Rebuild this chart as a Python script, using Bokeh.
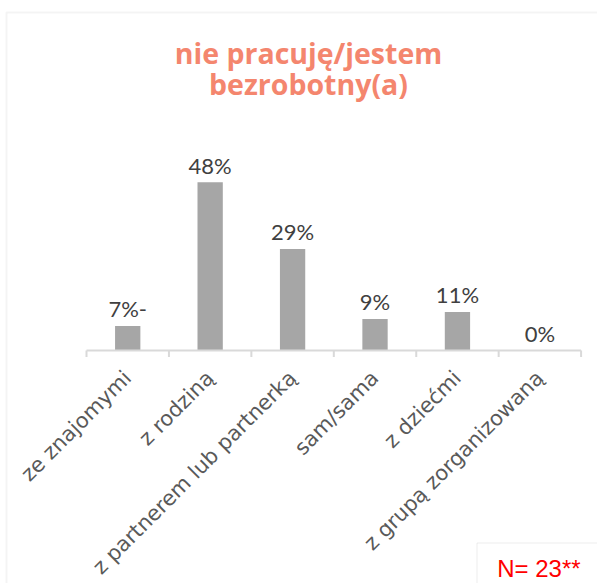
from math import pi
from bokeh.plotting import figure
from bokeh.models import Range1d, BoxAnnotation, Label, ColumnDataSource
from bokeh.embed import file_html
from bokeh.resources import INLINE
from bokeh.core.properties import value

# ---- data ----
categories = ["ze znajomymi", "z rodziną", "z partnerem lub partnerką",
              "sam/sama", "z dziećmi", "z grupą zorganizowaną"]
values = [7, 48, 29, 9, 11, 0]
value_labels = ["7%-", "48%", "29%", "9%", "11%", "0%"]
title_lines = ["nie pracuję/jestem", "bezrobotny(a)"]
note_text = "N= 23**"

W, H = 597, 583
n = len(categories)
positions = [i + 0.5 for i in range(n)]
boundaries = [float(i) for i in range(n + 1)]

# layout (pixels): category axis from x=86 to 580.6, baseline at y=350, 3.503 px per %
ax_left, ax_right, base_y = 86.0, 580.6, 350.0
px_per_cat = (ax_right - ax_left) / n
px_per_pct = 3.503
x_range = Range1d(-ax_left / px_per_cat, n + (W - ax_right) / px_per_cat)
y_range = Range1d(-(H - base_y) / px_per_pct, base_y / px_per_pct)

p = figure(width=W, height=H, output_backend="svg", toolbar_location=None,
           x_range=x_range, y_range=y_range,
           x_axis_location=None, y_axis_location=None,
           min_border=0, min_border_left=0, min_border_right=0,
           min_border_top=0, min_border_bottom=0)
p.outline_line_color = None
p.xgrid.visible = False
p.ygrid.visible = False
p.background_fill_color = "white"
p.border_fill_color = "white"

src = ColumnDataSource(dict(x=positions, top=values, lab=value_labels))
p.vbar(x="x", top="top", width=0.307, source=src, fill_color="#A6A6A6",
       line_color=None)
p.text(x="x", y="top", text="lab", source=src, y_offset=-17,
       text_align="center", text_baseline="alphabetic",
       text_font=value("Lato"), text_font_size="22px", text_color="#404040")

# category axis: line, ticks at category boundaries, rotated labels
p.segment(x0=[boundaries[0]], y0=[0], x1=[boundaries[-1]], y1=[0],
          line_color="#D9D9D9", line_width=2)
p.ray(x=boundaries, y=[0] * len(boundaries), length=6.5, length_units="screen",
      angle=-pi / 2, line_color="#D9D9D9", line_width=2)
cat_src = ColumnDataSource(dict(x=positions, y=[0] * n, t=categories))
p.text(x="x", y="y", text="t", source=cat_src, angle=pi / 4,
       x_offset=0, y_offset=24, text_align="right", text_baseline="middle",
       text_font=value("DejaVu Sans"), text_font_size="21px",
       text_color="#595959")

# outer chart frame
p.add_layout(BoxAnnotation(left=6, right=2000, top=12, bottom=2000,
                           left_units="canvas", right_units="canvas",
                           top_units="canvas", bottom_units="canvas",
                           fill_color=None, fill_alpha=0,
                           line_color="#D9D9D9", line_width=2))
# note box
p.add_layout(BoxAnnotation(left=476.5, right=2000, top=542.5, bottom=2000,
                           left_units="canvas", right_units="canvas",
                           top_units="canvas", bottom_units="canvas",
                           fill_color="white", fill_alpha=1,
                           line_color="#BFBFBF", line_width=1))
p.add_layout(Label(x=496.7, y=576.7 - 8.3, x_units="canvas", y_units="canvas",
                   text=note_text, text_align="left", text_baseline="middle",
                   text_font="Liberation Sans", text_font_size="24px",
                   text_color="#FF0000"))

for txt, yb in zip(title_lines, [63.3, 94.0]):
    p.add_layout(Label(x=308, y=yb - 11.0, x_units="canvas", y_units="canvas",
                       text=txt, text_align="center", text_baseline="middle",
                       text_font="Open Sans", text_font_style="bold",
                       text_font_size="28.5px", text_color="#F4866E"))

open("out.html", "w").write(file_html(p, INLINE))
